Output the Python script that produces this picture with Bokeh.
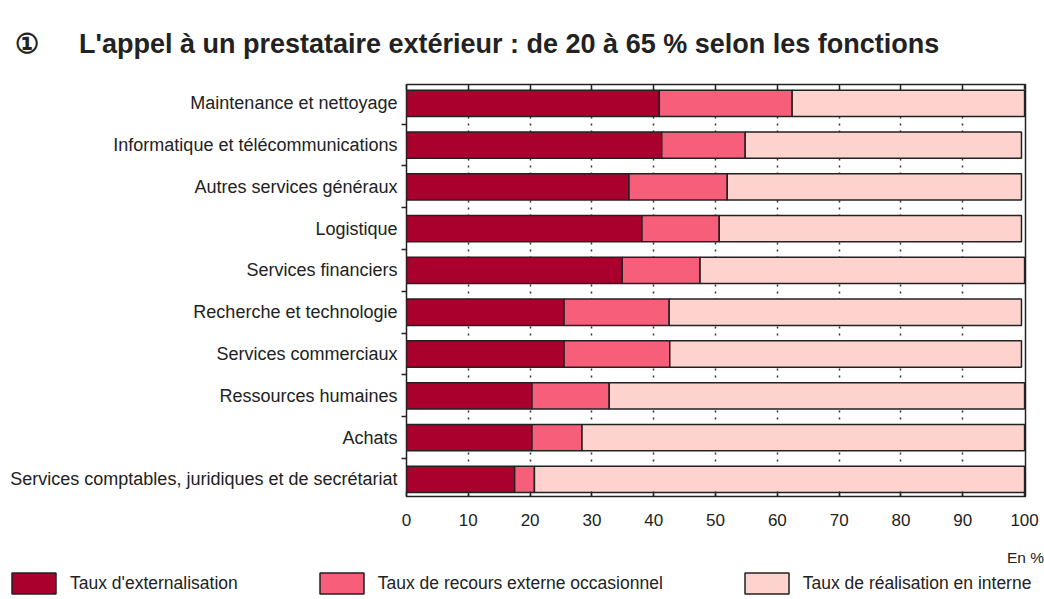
from bokeh.plotting import figure
from bokeh.layouts import column
from bokeh.models import (ColumnDataSource, Range1d, FixedTicker, LinearAxis,
                          Legend, LegendItem)
from bokeh.embed import file_html
from bokeh.resources import INLINE

categories = ["Maintenance et nettoyage", "Informatique et télécommunications",
              "Autres services généraux", "Logistique", "Services financiers",
              "Recherche et technologie", "Services commerciaux", "Ressources humaines",
              "Achats", "Services comptables, juridiques et de secrétariat"]
externalisation = [40.9, 41.3, 36.0, 38.1, 34.9, 25.5, 25.5, 20.3, 20.3, 17.5]
occasionnel = [21.5, 13.5, 15.9, 12.5, 12.6, 17.0, 17.1, 12.5, 8.1, 3.2]
interne = [37.6, 44.7, 47.6, 48.9, 52.5, 57.0, 56.9, 67.2, 71.6, 79.3]
series_names = ["Taux d'externalisation", "Taux de recours externe occasionnel",
                "Taux de réalisation en interne"]
x_ticks = [0, 10, 20, 30, 40, 50, 60, 70, 80, 90, 100]
title_text = "①\u2003\u2002L'appel à un prestataire extérieur : de 20 à 65 % selon les fonctions"
unit_label = "En %"

FONT = "Liberation Sans"
TXT = "#222222"
colors = ["#AA002E", "#F65E7A", "#FFD3CD"]
stack_cols = ["ext", "occ", "intr"]

n = len(categories)
ypos = [n - 1 - i for i in range(n)]
src = ColumnDataSource(dict(y=ypos, ext=externalisation, occ=occasionnel, intr=interne))

p = figure(width=1044, height=570, output_backend="svg", toolbar_location=None,
           x_range=Range1d(0, 100.15), y_range=Range1d(-0.41, n - 1 + 0.45),
           min_border_left=406, min_border_right=19, min_border_top=84, min_border_bottom=74,
           background_fill_color="white", border_fill_color="white")
p.outline_line_color = TXT
p.outline_line_width = 1.5

p.title.text = title_text
p.title.align = "left"
p.title.offset = -392
p.title.text_font = FONT
p.title.text_font_style = "bold"
p.title.text_font_size = "27px"
p.title.text_color = TXT
p.title.standoff = 51

renderers = p.hbar_stack(stack_cols, y="y", height=0.63, source=src,
                         color=colors, line_color=TXT, line_width=1.5)

# grid
p.ygrid.visible = False
p.xgrid.ticker = FixedTicker(ticks=x_ticks[1:-1])
p.xgrid.grid_line_color = "#333333"
p.xgrid.grid_line_dash = "2 5"
p.xgrid.grid_line_width = 1.5

# x axis
xa = p.xaxis[0]
xa.ticker = FixedTicker(ticks=x_ticks)
xa.axis_line_color = None
xa.major_tick_in = 5
xa.major_tick_out = 0
xa.major_tick_line_color = TXT
xa.major_tick_line_width = 1.5
xa.minor_tick_line_color = None
xa.major_label_standoff = 17
xa.major_label_text_font = FONT
xa.major_label_text_font_size = "17px"
xa.major_label_text_color = TXT
xa.axis_label = unit_label
xa.axis_label_standoff = 20
xa.axis_label_text_font = FONT
xa.axis_label_text_font_style = "normal"
xa.axis_label_text_font_size = "15.5px"
xa.axis_label_text_color = TXT
if "axis_label_align" in xa.properties():
    xa.axis_label_align = "end"

top = LinearAxis(ticker=FixedTicker(ticks=x_ticks), axis_line_color=None,
                 major_tick_in=5, major_tick_out=0, major_tick_line_color=TXT,
                 major_tick_line_width=1.5, minor_tick_line_color=None,
                 major_label_text_font_size="0px")
p.add_layout(top, "above")

# y axis
ya = p.yaxis[0]
ya.ticker = FixedTicker(ticks=ypos, minor_ticks=[v + 0.5 for v in range(n - 1)])
ya.major_label_overrides = {yv: c for yv, c in zip(ypos, categories)}
ya.axis_line_color = None
ya.major_tick_line_color = None
ya.major_tick_in = 0
ya.major_tick_out = 0
ya.minor_tick_in = 0
ya.minor_tick_out = 5
ya.minor_tick_line_color = TXT
ya.minor_tick_line_width = 1.5
ya.major_label_standoff = 4
ya.major_label_text_font = FONT
ya.major_label_text_font_size = "18px"
ya.major_label_text_color = TXT

# legend strip (separate figure below the chart; its renderers are hidden, only the legend shows)
q = figure(width=1044, height=29, output_backend="svg", toolbar_location=None,
           x_range=Range1d(0, 100), y_range=Range1d(-50, -49),
           x_axis_location=None, y_axis_location=None, min_border=0,
           background_fill_color="white", border_fill_color="white")
q.outline_line_color = None
q.grid.visible = False
legend_r = q.hbar_stack(stack_cols, y="y", height=0.63, source=src,
                        color=colors, line_color=TXT, line_width=1.5)
for r in legend_r:
    r.visible = False
lg = Legend(items=[LegendItem(label=nm, renderers=[r]) for nm, r in zip(series_names, legend_r)],
            location=(6, 3), orientation="horizontal", spacing=76,
            glyph_width=55, glyph_height=26, label_height=26, label_standoff=9,
            padding=0, margin=0, border_line_color=None, background_fill_alpha=0,
            label_text_font=FONT, label_text_font_size="17.5px", label_text_color=TXT)
q.add_layout(lg, "center")

for f in (p, q):
    if "frame_align" in f.properties():
        f.frame_align = False

open("out.html", "w").write(file_html(column(p, q, spacing=0), INLINE))
